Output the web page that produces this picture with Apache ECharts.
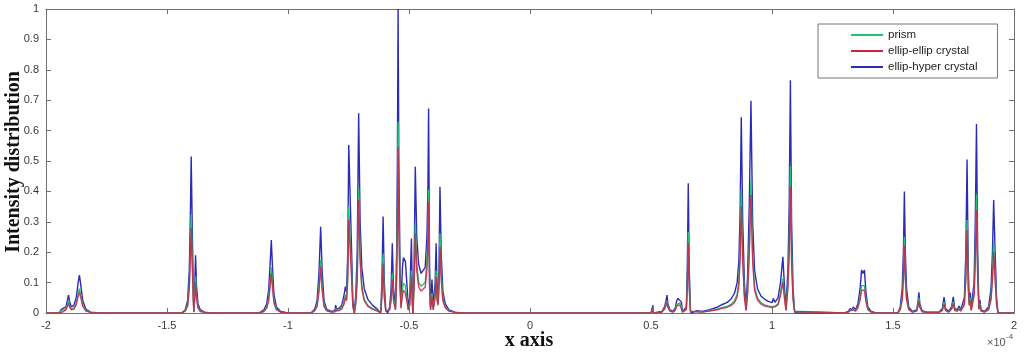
<!DOCTYPE html>
<html>
<head>
<meta charset="utf-8">
<style>
  html, body { margin: 0; padding: 0; background: #fff; }
  #chart { width: 1024px; height: 355px; }
</style>
<script src="https://cdn.jsdelivr.net/npm/echarts@6/dist/echarts.min.js"></script>
</head>
<body>
<div id="chart"></div>
<script>
// x positions (units of 1e-4), one line per group of peaks
const xs = [
  -2.0, -1.945, -1.937, -1.930, -1.918, -1.912, -1.907, -1.902, -1.895, -1.885, -1.875, -1.868, -1.862, -1.856, -1.848, -1.835, -1.815, -1.78,
  -1.44, -1.425, -1.415, -1.408, -1.404, -1.400, -1.396, -1.391, -1.389, -1.385, -1.382, -1.378, -1.372, -1.362, -1.345, -1.32,
  -1.262, -1.255, -1.248, -1.12, -1.100, -1.088, -1.080, -1.074, -1.069, -1.064, -1.058, -1.048, -1.03, -1.0,
  -0.905, -0.890, -0.880, -0.872, -0.865, -0.859, -0.851, -0.840, -0.820, -0.806, -0.803, -0.799, -0.790, -0.778, -0.768, -0.763, -0.758, -0.753, -0.749, -0.741, -0.737, -0.732, -0.726,
  -0.720, -0.714, -0.708, -0.702, -0.695, -0.685, -0.670, -0.650, -0.630, -0.617,
  -0.612, -0.607, -0.602, -0.596, -0.588, -0.580, -0.574, -0.569, -0.564, -0.556, -0.551, -0.548, -0.545, -0.542, -0.537, -0.533, -0.527, -0.523, -0.515, -0.509, -0.503, -0.497, -0.490, -0.486, -0.484,
  -0.479, -0.474, -0.468, -0.460, -0.450, -0.442, -0.433, -0.426, -0.422, -0.419, -0.415, -0.411, -0.407, -0.405, -0.400, -0.392, -0.388, -0.384, -0.380, -0.376, -0.372, -0.367, -0.360, -0.350, -0.335, -0.310, -0.285, -0.281, -0.277, -0.26,
  0.500, 0.506, 0.508, 0.510, 0.545, 0.556, 0.562, 0.566, 0.570, 0.578, 0.590, 0.600, 0.606, 0.612, 0.620, 0.626, 0.630, 0.646, 0.650, 0.654, 0.658, 0.663, 0.666,
  0.690, 0.710, 0.740, 0.770, 0.795, 0.815, 0.830, 0.845, 0.856, 0.863, 0.868, 0.873, 0.879, 0.886, 0.893, 0.899, 0.906, 0.913, 0.920, 0.928, 0.940, 0.955, 0.970, 0.985, 1.000, 1.006, 1.012, 1.025, 1.035, 1.045, 1.052, 1.058, 1.066, 1.071, 1.076, 1.081, 1.087, 1.093, 1.096,
  1.300, 1.315, 1.324, 1.330, 1.336, 1.345, 1.355, 1.364, 1.370, 1.376, 1.382, 1.388, 1.396, 1.410, 1.430,
  1.520, 1.530, 1.538, 1.543, 1.547, 1.551, 1.556, 1.565, 1.580, 1.598, 1.603, 1.607, 1.611, 1.620, 1.640,
  1.690, 1.704, 1.711, 1.717, 1.730, 1.742, 1.749, 1.755, 1.765, 1.773, 1.780, 1.795, 1.801, 1.806, 1.811, 1.815, 1.819, 1.823, 1.827, 1.835, 1.840, 1.845, 1.850, 1.855, 1.859, 1.864, 1.878, 1.895, 1.905, 1.911, 1.916, 1.922, 1.928, 1.934, 2.000
]

const ellipHyper = [
  0, 0, 0.012, 0.008, 0.02, 0.04, 0.059, 0.035, 0.02, 0.025, 0.05, 0.095, 0.125, 0.09, 0.04, 0.012, 0.003, 0,
  0, 0.01, 0.04, 0.14, 0.3, 0.515, 0.3, 0.06, 0.005, 0.1, 0.19, 0.09, 0.03, 0.01, 0.003, 0,
  0, 0.006, 0, 0, 0.01, 0.03, 0.075, 0.16, 0.24, 0.15, 0.06, 0.02, 0.005, 0,
  0, 0.012, 0.04, 0.13, 0.284, 0.14, 0.04, 0.012, 0.005, 0.008, 0.026, 0.012, 0.015, 0.025, 0.06, 0.087, 0.07, 0.2, 0.553, 0.553, 0.2, 0.04, 0,
  0.06, 0.2, 0.657, 0.3, 0.15, 0.08, 0.045, 0.025, 0.012, 0,
  0.1, 0.317, 0.1, 0.01, 0, 0.02, 0.08, 0.229, 0.08, 0.02, 0.2, 0.5, 1.0, 0.5, 0.15, 0.03, 0.15, 0.182, 0.17, 0.1, 0.02, 0.05, 0.245, 0.05, 0,
  0.15, 0.481, 0.25, 0.16, 0.13, 0.125, 0.15, 0.25, 0.4, 0.673, 0.15, 0.02, 0.08, 0.11, 0.02, 0.1, 0.229, 0.08, 0.05, 0.15, 0.415, 0.2, 0.07, 0.03, 0.01, 0.003, 0, 0.006, 0, 0,
  0, 0, 0.025, 0, 0.005, 0.02, 0.04, 0.059, 0.03, 0.01, 0.005, 0.015, 0.04, 0.048, 0.045, 0.035, 0.005, 0.02, 0.15, 0.427, 0.15, 0.01, 0,
  0.008, 0.005, 0.01, 0.018, 0.028, 0.035, 0.045, 0.065, 0.1, 0.17, 0.32, 0.644, 0.3, 0.1, 0.015, 0.12, 0.35, 0.698, 0.3, 0.14, 0.08, 0.055, 0.045, 0.038, 0.034, 0.048, 0.035, 0.05, 0.1, 0.185, 0.08, 0.015, 0.15, 0.35, 0.766, 0.3, 0.08, 0.01, 0,
  0, 0.005, 0.015, 0.008, 0.02, 0.01, 0.03, 0.08, 0.141, 0.13, 0.141, 0.07, 0.02, 0.005, 0,
  0, 0.02, 0.08, 0.2, 0.4, 0.2, 0.08, 0.02, 0.005, 0.01, 0.035, 0.068, 0.03, 0.008, 0.003,
  0.003, 0.015, 0.052, 0.015, 0.005, 0.02, 0.053, 0.015, 0.01, 0.023, 0.01, 0.05, 0.2, 0.505, 0.15, 0.04, 0.067, 0.015, 0.01, 0.1, 0.3, 0.622, 0.2, 0.02, 0.043, 0.01, 0.005, 0.02, 0.08, 0.2, 0.372, 0.2, 0.05, 0, 0
]

const prism = [
  0, 0, 0.008, 0.005, 0.013, 0.026, 0.04, 0.022, 0.012, 0.016, 0.032, 0.06, 0.08, 0.058, 0.026, 0.008, 0.002, 0,
  0, 0.007, 0.026, 0.09, 0.19, 0.325, 0.19, 0.04, 0.003, 0.063, 0.12, 0.057, 0.019, 0.006, 0.002, 0,
  0, 0.004, 0, 0, 0.006, 0.019, 0.047, 0.1, 0.15, 0.095, 0.038, 0.013, 0.003, 0,
  0, 0.008, 0.025, 0.08, 0.174, 0.086, 0.025, 0.008, 0.003, 0.005, 0.016, 0.008, 0.01, 0.016, 0.04, 0.06, 0.045, 0.13, 0.35, 0.35, 0.13, 0.025, 0,
  0.035, 0.12, 0.413, 0.19, 0.09, 0.045, 0.025, 0.014, 0.007, 0,
  0.06, 0.196, 0.06, 0.006, 0, 0.012, 0.05, 0.13, 0.05, 0.012, 0.13, 0.32, 0.63, 0.32, 0.09, 0.02, 0.08, 0.098, 0.09, 0.05, 0.01, 0.03, 0.14, 0.03, 0,
  0.09, 0.295, 0.16, 0.1, 0.088, 0.085, 0.1, 0.17, 0.25, 0.405, 0.09, 0.012, 0.05, 0.065, 0.012, 0.06, 0.14, 0.05, 0.03, 0.1, 0.262, 0.13, 0.045, 0.02, 0.007, 0.002, 0, 0.004, 0, 0,
  0, 0, 0.018, 0, 0.003, 0.015, 0.03, 0.04, 0.02, 0.007, 0.003, 0.01, 0.028, 0.034, 0.032, 0.022, 0.003, 0.013, 0.09, 0.267, 0.09, 0.006, 0,
  0.005, 0.003, 0.007, 0.012, 0.018, 0.022, 0.028, 0.04, 0.062, 0.105, 0.2, 0.407, 0.19, 0.06, 0.01, 0.07, 0.22, 0.44, 0.19, 0.085, 0.05, 0.033, 0.027, 0.023, 0.021, 0.026, 0.022, 0.03, 0.065, 0.114, 0.05, 0.01, 0.1, 0.22, 0.483, 0.19, 0.05, 0.006, 0,
  0, 0.003, 0.01, 0.005, 0.013, 0.007, 0.02, 0.05, 0.09, 0.085, 0.09, 0.045, 0.013, 0.003, 0,
  0, 0.013, 0.05, 0.125, 0.25, 0.125, 0.05, 0.013, 0.003, 0.007, 0.025, 0.05, 0.022, 0.005, 0.002,
  0.002, 0.01, 0.036, 0.01, 0.003, 0.014, 0.037, 0.01, 0.007, 0.016, 0.007, 0.032, 0.125, 0.306, 0.09, 0.028, 0.05, 0.01, 0.007, 0.065, 0.19, 0.39, 0.125, 0.014, 0.03, 0.007, 0.003, 0.013, 0.05, 0.125, 0.235, 0.125, 0.032, 0, 0
]

const ellipEllip = [
  0, 0, 0.006, 0.004, 0.01, 0.02, 0.032, 0.018, 0.01, 0.013, 0.027, 0.052, 0.068, 0.05, 0.022, 0.006, 0.002, 0,
  0, 0.006, 0.022, 0.077, 0.165, 0.28, 0.165, 0.034, 0.003, 0.053, 0.1, 0.048, 0.016, 0.005, 0.002, 0,
  0, 0.003, 0, 0, 0.005, 0.016, 0.04, 0.087, 0.13, 0.082, 0.033, 0.011, 0.003, 0,
  0, 0.007, 0.021, 0.07, 0.152, 0.075, 0.021, 0.007, 0.003, 0.004, 0.014, 0.006, 0.008, 0.013, 0.03, 0.05, 0.04, 0.11, 0.306, 0.306, 0.11, 0.02, 0,
  0.03, 0.105, 0.372, 0.17, 0.08, 0.04, 0.022, 0.012, 0.006, 0,
  0.05, 0.163, 0.05, 0.005, 0, 0.01, 0.04, 0.11, 0.04, 0.01, 0.11, 0.28, 0.547, 0.28, 0.08, 0.015, 0.06, 0.075, 0.065, 0.04, 0.01, 0.025, 0.12, 0.025, 0,
  0.08, 0.262, 0.14, 0.085, 0.072, 0.07, 0.085, 0.14, 0.22, 0.366, 0.08, 0.01, 0.04, 0.055, 0.01, 0.05, 0.12, 0.04, 0.025, 0.08, 0.218, 0.11, 0.04, 0.017, 0.006, 0.002, 0, 0.003, 0, 0,
  0, 0, 0.015, 0, 0.003, 0.012, 0.025, 0.035, 0.018, 0.006, 0.003, 0.008, 0.024, 0.028, 0.026, 0.02, 0.003, 0.011, 0.08, 0.229, 0.08, 0.005, 0,
  0.004, 0.003, 0.006, 0.01, 0.015, 0.019, 0.024, 0.034, 0.053, 0.09, 0.175, 0.35, 0.165, 0.05, 0.008, 0.06, 0.19, 0.388, 0.17, 0.075, 0.043, 0.029, 0.023, 0.02, 0.018, 0.022, 0.02, 0.027, 0.057, 0.1, 0.045, 0.008, 0.085, 0.19, 0.415, 0.16, 0.045, 0.005, 0,
  0, 0.003, 0.008, 0.004, 0.011, 0.006, 0.017, 0.043, 0.075, 0.07, 0.075, 0.038, 0.011, 0.003, 0,
  0, 0.011, 0.043, 0.11, 0.22, 0.11, 0.043, 0.011, 0.003, 0.006, 0.02, 0.04, 0.018, 0.004, 0.002,
  0.002, 0.008, 0.03, 0.008, 0.003, 0.012, 0.031, 0.008, 0.006, 0.013, 0.006, 0.027, 0.11, 0.273, 0.08, 0.024, 0.04, 0.008, 0.006, 0.055, 0.165, 0.339, 0.11, 0.012, 0.025, 0.006, 0.003, 0.011, 0.043, 0.107, 0.2, 0.107, 0.027, 0, 0
]

const legendNames = ['prism', 'ellip-ellip crystal', 'ellip-hyper crystal']

const axisColor = '#707070'
const labelFont = 'Liberation Sans'
const titleFont = 'Liberation Serif'

const chart = echarts.init(document.getElementById('chart'))

const toPairs = (ys) => xs.map((x, i) => [x, ys[i]])

// box axes, ticks pointing inwards like MATLAB
const frameAxis = {
  axisLine: { show: true, onZero: false, lineStyle: { color: axisColor, width: 1 } },
  axisTick: { show: true, inside: true, length: 5, lineStyle: { color: axisColor } },
  splitLine: { show: false },
}

const tickLabel = {
  color: '#3a3a3a',
  fontSize: 11,
  fontFamily: labelFont,
  margin: 7,
  formatter: (v) => String(Number(v.toFixed(1))),
}

const titleStyle = { fontFamily: titleFont, fontWeight: 'bold', fontSize: 20, fill: '#111', align: 'center', verticalAlign: 'middle' }

const option = {
  animation: false,
  backgroundColor: '#fff',
  grid: { left: 46, right: 10, top: 9, bottom: 42, outerBoundsMode: 'none', containLabel: false },
  xAxis: [
    { type: 'value', min: -2, max: 2, interval: 0.5, ...frameAxis, axisLabel: tickLabel },
    { type: 'value', position: 'top', min: -2, max: 2, interval: 0.5, ...frameAxis, axisLabel: { show: false } },
  ],
  yAxis: [
    { type: 'value', min: 0, max: 1, interval: 0.1, ...frameAxis, axisLabel: tickLabel },
    { type: 'value', position: 'right', min: 0, max: 1, interval: 0.1, ...frameAxis, axisLabel: { show: false } },
  ],
  legend: {
    data: legendNames,
    orient: 'vertical',
    left: 818,
    top: 24,
    padding: [5, 20, 5, 33],
    itemGap: 4,
    itemWidth: 32,
    itemHeight: 2,
    icon: 'rect',
    backgroundColor: '#fff',
    borderColor: '#777',
    borderWidth: 1,
    textStyle: { fontSize: 11.5, fontFamily: labelFont, color: '#222' },
  },
  graphic: [
    { type: 'text', x: 529, y: 341, style: { text: 'x axis', ...titleStyle } },
    { type: 'text', x: 14, y: 162, rotation: Math.PI / 2, style: { text: 'Intensity distribution', ...titleStyle } },
    { type: 'text', left: 987, top: 337, style: { text: '×10', fontSize: 11, fontFamily: labelFont, fill: '#555' } },
    { type: 'text', left: 1006, top: 333, style: { text: '-4', fontSize: 8, fontFamily: labelFont, fill: '#555' } },
  ],
  series: [
    {
      name: 'ellip-hyper crystal',
      type: 'line',
      data: toPairs(ellipHyper),
      showSymbol: false,
      symbol: 'none',
      color: '#2b2bb8',
      lineStyle: { width: 1.4, color: '#2b2bb8' },
    },
    {
      name: 'prism',
      type: 'line',
      data: toPairs(prism),
      showSymbol: false,
      symbol: 'none',
      color: '#1fc477',
      lineStyle: { width: 1.4, color: '#1fc477' },
    },
    {
      name: 'ellip-ellip crystal',
      type: 'line',
      data: toPairs(ellipEllip),
      showSymbol: false,
      symbol: 'none',
      color: '#d42048',
      lineStyle: { width: 1.4, color: '#d42048', opacity: 0.85 },
    },
  ],
}

chart.setOption(option)
</script>
</body>
</html>
